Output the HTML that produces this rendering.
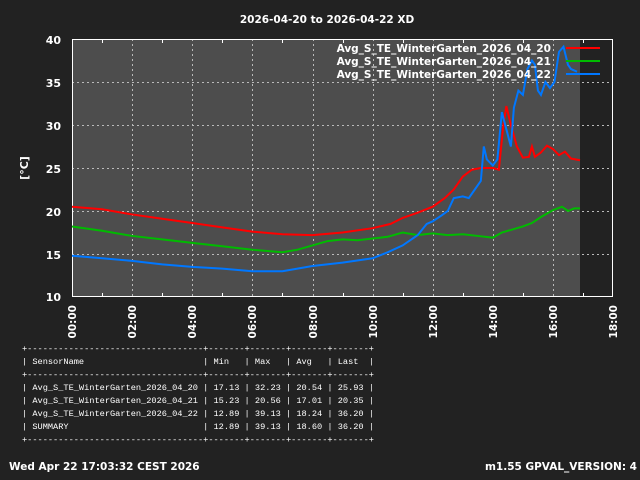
<!DOCTYPE html>
<html><head><style>
html,body{margin:0;padding:0;background:#222222;width:640px;height:480px;overflow:hidden}
svg{position:absolute;left:0;top:0}
text{font-family:"DejaVu Sans","Liberation Sans",sans-serif;fill:#fff;font-weight:bold}
.t{position:absolute;left:22px;top:343px;font-family:"Liberation Mono","DejaVu Sans Mono",monospace;font-size:8.65px;line-height:13px;color:#fff;white-space:pre}
</style></head><body>
<svg width="640" height="480" xmlns="http://www.w3.org/2000/svg">
<rect x="72" y="39" width="508" height="258" fill="#4d4d4d"/>
<g stroke="#bbb" stroke-width="1" stroke-dasharray="2,3">
<line x1="72" y1="82.5" x2="613" y2="82.5"/><line x1="72" y1="125.5" x2="613" y2="125.5"/>
<line x1="72" y1="168.5" x2="613" y2="168.5"/><line x1="72" y1="211.5" x2="613" y2="211.5"/>
<line x1="72" y1="254.5" x2="613" y2="254.5"/>
<line x1="132.5" y1="39" x2="132.5" y2="297"/><line x1="192.5" y1="39" x2="192.5" y2="297"/>
<line x1="252.5" y1="39" x2="252.5" y2="297"/><line x1="313.5" y1="39" x2="313.5" y2="297"/>
<line x1="373.5" y1="39" x2="373.5" y2="297"/><line x1="433.5" y1="39" x2="433.5" y2="297"/>
<line x1="493.5" y1="39" x2="493.5" y2="297"/><line x1="553.5" y1="39" x2="553.5" y2="297"/>
</g>
<g stroke="#fff" stroke-width="1">
<path d="M102.5,297v-4M162.5,297v-4M222.5,297v-4M282.5,297v-4M343.5,297v-4M403.5,297v-4M463.5,297v-4M523.5,297v-4M583.5,297v-4M102.5,39v4M162.5,39v4M222.5,39v4M282.5,39v4M343.5,39v4M403.5,39v4M463.5,39v4M523.5,39v4M583.5,39v4"/>
</g>
<rect x="72.5" y="39.5" width="540" height="257" fill="none" stroke="#fff"/>
<g transform="translate(72,383) scale(30.06,-8.6)" fill="none" stroke-width="2">
<polyline vector-effect="non-scaling-stroke" stroke="#ff0000" points="0,20.5 1,20.2 2,19.6 3,19.1 4,18.6 5,18.1 6,17.6 7,17.3 8,17.2 9,17.5 10,18 10.6,18.5 11,19.2 11.5,19.8 12,20.5 12.4,21.5 12.7,22.5 13,24 13.3,24.8 13.6,25 14,25 14.2,24.8 14.35,30 14.45,32.2 14.6,30 14.8,27.5 15,26.2 15.2,26.3 15.3,27.5 15.4,26.3 15.6,26.8 15.8,27.6 16,27.2 16.2,26.5 16.4,26.9 16.6,26.1 16.9,25.9"/>
<polyline vector-effect="non-scaling-stroke" stroke="#00bb00" points="0,18.2 1,17.7 2,17.1 3,16.7 4,16.3 5,15.9 6,15.5 7,15.2 7.5,15.5 8,16 8.5,16.5 9,16.7 9.5,16.6 10,16.8 10.5,17 11,17.5 11.5,17.2 12,17.4 12.5,17.2 13,17.3 13.5,17.1 14,16.9 14.3,17.5 14.6,17.8 15,18.2 15.3,18.6 15.6,19.3 16,20.1 16.3,20.5 16.5,20 16.7,20.3 16.9,20.3"/>
<polyline vector-effect="non-scaling-stroke" stroke="#0077ff" points="0,14.8 1,14.5 2,14.2 3,13.8 4,13.5 5,13.3 6,13 7,13 7.5,13.3 8,13.6 9,14 10,14.5 10.5,15.2 11,16 11.5,17.2 11.8,18.5 12,18.8 12.3,19.5 12.5,20 12.7,21.5 13,21.7 13.2,21.5 13.4,22.5 13.6,23.5 13.7,27.5 13.8,26 14,25.3 14.15,26 14.3,31.5 14.45,29.5 14.6,27.5 14.7,32 14.85,34 15,33.5 15.15,36.5 15.3,37.5 15.4,37 15.5,34 15.6,33.5 15.75,35 15.9,34.3 16.05,35 16.2,38.5 16.35,39.1 16.5,37 16.6,36.5 16.8,36.2"/>
</g>
<line x1="566" y1="48" x2="600" y2="48" stroke="#ff0000" stroke-width="2"/>
<line x1="566" y1="61" x2="600" y2="61" stroke="#00bb00" stroke-width="2"/>
<line x1="566" y1="74" x2="600" y2="74" stroke="#0077ff" stroke-width="2"/>
<g font-size="10.5" text-anchor="end">
<text x="551" y="52">Avg_S_TE_WinterGarten_2026_04_20</text>
<text x="551" y="65">Avg_S_TE_WinterGarten_2026_04_21</text>
<text x="551" y="78">Avg_S_TE_WinterGarten_2026_04_22</text>
</g>
<text x="327" y="23" font-size="10.5" text-anchor="middle">2026-04-20 to 2026-04-22 XD</text>
<g font-size="11" text-anchor="end">
<text x="61" y="44">40</text><text x="61" y="87">35</text><text x="61" y="130">30</text>
<text x="61" y="173">25</text><text x="61" y="216">20</text><text x="61" y="259">15</text><text x="61" y="301">10</text>
</g>
<text transform="translate(28,168) rotate(-90)" font-size="11" text-anchor="middle">[°C]</text>
<g font-size="10.5" text-anchor="end">
<text transform="translate(76,305) rotate(-90)">00:00</text>
<text transform="translate(136,305) rotate(-90)">02:00</text>
<text transform="translate(196,305) rotate(-90)">04:00</text>
<text transform="translate(256,305) rotate(-90)">06:00</text>
<text transform="translate(317,305) rotate(-90)">08:00</text>
<text transform="translate(377,305) rotate(-90)">10:00</text>
<text transform="translate(437,305) rotate(-90)">12:00</text>
<text transform="translate(497,305) rotate(-90)">14:00</text>
<text transform="translate(557,305) rotate(-90)">16:00</text>
<text transform="translate(617,305) rotate(-90)">18:00</text>
</g>
<text x="9" y="470" font-size="10.5">Wed Apr 22 17:03:32 CEST 2026</text>
<text x="637" y="470" font-size="10.5" text-anchor="end">m1.55 GPVAL_VERSION: 4</text>
</svg>
<div class="t">+----------------------------------+-------+-------+-------+-------+
| SensorName                       | Min   | Max   | Avg   | Last  |
+----------------------------------+-------+-------+-------+-------+
| Avg_S_TE_WinterGarten_2026_04_20 | 17.13 | 32.23 | 20.54 | 25.93 |
| Avg_S_TE_WinterGarten_2026_04_21 | 15.23 | 20.56 | 17.01 | 20.35 |
| Avg_S_TE_WinterGarten_2026_04_22 | 12.89 | 39.13 | 18.24 | 36.20 |
| SUMMARY                          | 12.89 | 39.13 | 18.60 | 36.20 |
+----------------------------------+-------+-------+-------+-------+</div>
</body></html>
